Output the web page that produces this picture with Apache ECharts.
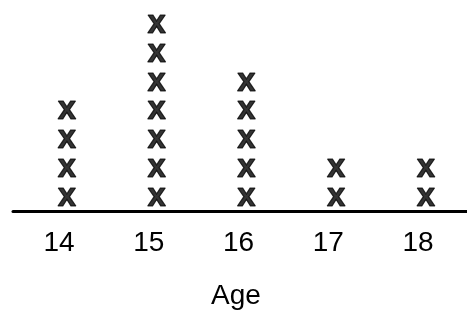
<!DOCTYPE html>
<html>
<head>
<meta charset="utf-8">
<script src="https://cdn.jsdelivr.net/npm/echarts@6/dist/echarts.min.js"></script>
<style>
html,body{margin:0;padding:0;background:#fff;}
#chart{width:467px;height:320px;}
</style>
</head>
<body>
<div id="chart"></div>
<script>
const ages = [14, 15, 16, 17, 18];
const counts = [4, 7, 5, 2, 2];
const axisTitle = 'Age';
const markText = 'x';

const points = [];
ages.forEach((a, i) => {
  for (let k = 1; k <= counts[i]; k++) points.push([a, k]);
});

const chart = echarts.init(document.getElementById('chart'), null, {renderer: 'canvas'});
chart.setOption({
  animation: false,
  backgroundColor: '#ffffff',
  grid: {left: 13, right: 0, top: 5, bottom: 109, containLabel: false},
  xAxis: {
    type: 'value',
    min: 13.4875,
    max: 18.546,
    splitLine: {show: false},
    axisTick: {show: false},
    axisLine: {show: true, onZero: false, lineStyle: {color: '#000', width: 3}},
    axisLabel: {
      customValues: ages,
      color: '#000',
      fontSize: 28,
      fontFamily: 'Arial, "Liberation Sans", sans-serif',
      margin: 18
    },
    name: axisTitle,
    nameLocation: 'middle',
    nameGap: 71,
    nameTextStyle: {color: '#000', fontSize: 28, fontFamily: 'Arial, "Liberation Sans", sans-serif', padding: [0, 8, 0, 0]}
  },
  yAxis: {
    type: 'value',
    min: 0.516,
    max: 7.644,
    show: false
  },
  series: [{
    type: 'scatter',
    data: points,
    symbolSize: 1,
    itemStyle: {color: 'rgba(0,0,0,0)'},
    label: {
      show: true,
      position: 'inside',
      formatter: markText,
      color: '#000',
      fontSize: 33,
      fontWeight: 'bold',
      fontFamily: 'Arial, "Liberation Sans", sans-serif',
      textBorderColor: '#000',
      textBorderWidth: 1.2,
      offset: [8, 0]
    }
  }]
});
</script>
</body>
</html>
